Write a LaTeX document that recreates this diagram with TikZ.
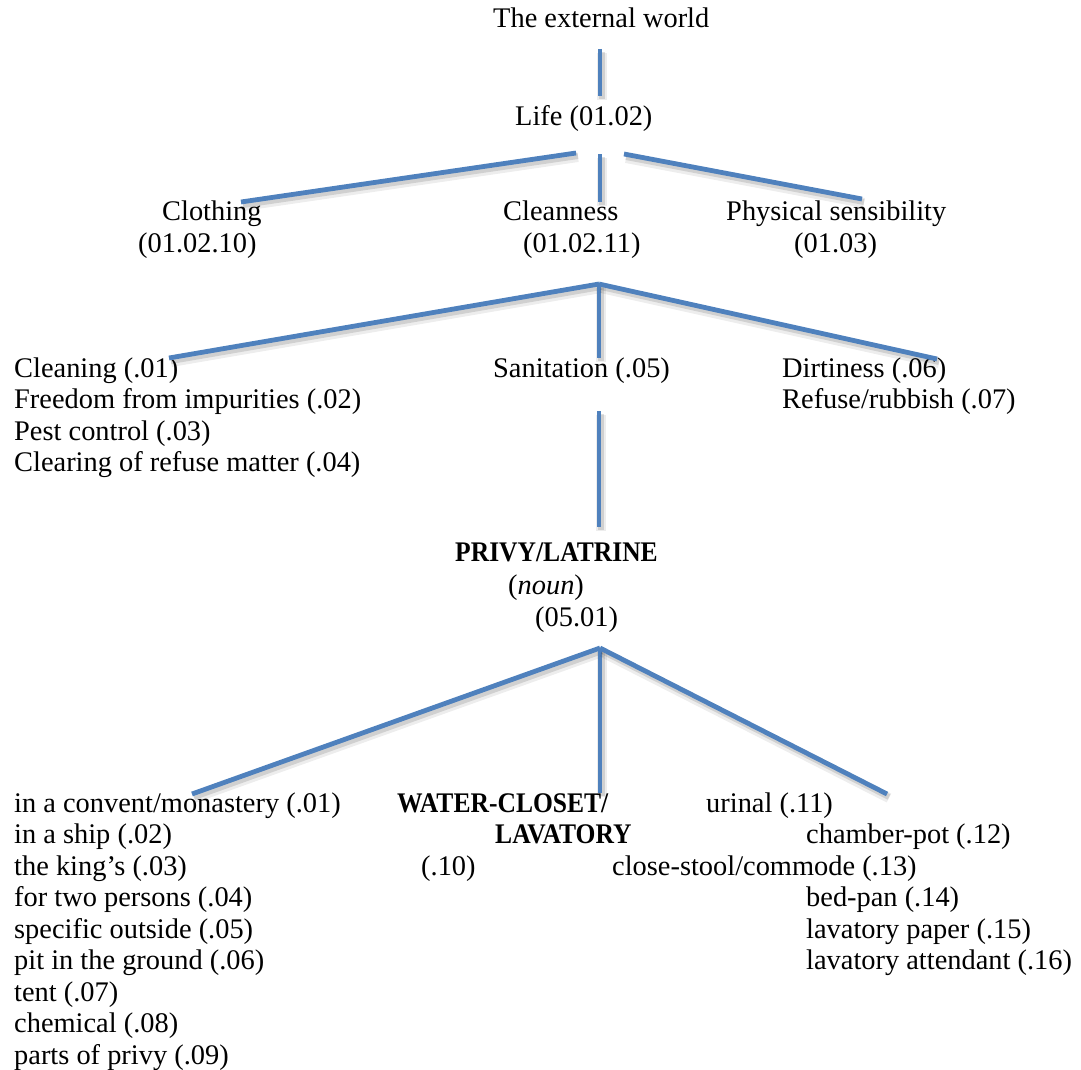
\documentclass[tikz,border=0pt]{standalone}
\usepackage{fontspec}
\setmainfont{Liberation Serif}[BoldFeatures={FakeStretch=0.9}]
\definecolor{branch}{HTML}{4F81BD}
\newcommand\linkit[2]{%
  \draw[shadowA] ([shift={(2,4)}]#1) -- ([shift={(2,4)}]#2);
  \draw[shadowB] ([shift={(2,3)}]#1) -- ([shift={(2,3)}]#2);
  \draw[conn] (#1) -- (#2);}
\begin{document}
\begin{tikzpicture}[x=1pt,y=-1pt,
  lbl/.style={anchor=base west, inner sep=0pt, font=\fontsize{28.4}{31.5}\selectfont},
  bl/.style={anchor=base west, inner sep=0pt, font=\fontsize{28.4}{31.5}\selectfont\bfseries},
  conn/.style={draw=branch, line width=4.8pt},
  shadowA/.style={draw=black, line width=10pt, opacity=0.07},
  shadowB/.style={draw=black, line width=6pt, opacity=0.12},
  ]
\useasboundingbox (0,0) rectangle (1081,1070);

% ---- level 0 / 1
\node[lbl] (ext) at (493,28) {The external world};
\node[lbl] (life) at (515,125) {Life (01.02)};

\node[lbl] (cloth) at (162,220) {Clothing};
\node[lbl] (clothn) at (138,252) {(01.02.10)};
\node[lbl] (clean) at (503,220) {Cleanness};
\node[lbl] (cleann) at (523,252) {(01.02.11)};
\node[lbl] (phys) at (726,220) {Physical sensibility};
\node[lbl] (physn) at (794,252) {(01.03)};

% ---- level 2
\node[lbl] (c1) at (14,377) {Cleaning (.01)};
\node[lbl] (c2) at (14,408.5) {Freedom from impurities (.02)};
\node[lbl] (c3) at (14,440) {Pest control (.03)};
\node[lbl] (c4) at (14,471.5) {Clearing of refuse matter (.04)};
\node[lbl] (san) at (493,377) {Sanitation (.05)};
\node[lbl] (d1) at (782,377) {Dirtiness (.06)};
\node[lbl] (d2) at (782,408.5) {Refuse/rubbish (.07)};

% ---- level 3
\node[bl] (privy) at (455,561) {PRIVY/LATRINE};
\node[lbl] (noun) at (508,594) {(\textit{noun})};
\node[lbl] (pcode) at (535,626) {(05.01)};

% ---- level 4
\node[lbl] (p1) at (14,812) {in a convent/monastery (.01)};
\node[lbl] (p2) at (14,843.5) {in a ship (.02)};
\node[lbl] (p3) at (14,875) {the king’s (.03)};
\node[lbl] (p4) at (14,906.5) {for two persons (.04)};
\node[lbl] (p5) at (14,938) {specific outside (.05)};
\node[lbl] (p6) at (14,969.5) {pit in the ground (.06)};
\node[lbl] (p7) at (14,1001) {tent (.07)};
\node[lbl] (p8) at (14,1032.5) {chemical (.08)};
\node[lbl] (p9) at (14,1064) {parts of privy (.09)};

\node[bl] (wc1) at (397,812) {WATER-CLOSET/};
\node[bl] (wc2) at (495,843.5) {LAVATORY};
\node[lbl] (wc3) at (421,875) {(.10)};

\node[lbl] (r1) at (706,812) {urinal (.11)};
\node[lbl] (r2) at (806,843.5) {chamber-pot (.12)};
\node[lbl] (r3) at (612,875) {close-stool/commode (.13)};
\node[lbl] (r4) at (806,906.5) {bed-pan (.14)};
\node[lbl] (r5) at (806,938) {lavatory paper (.15)};
\node[lbl] (r6) at (806,969.5) {lavatory attendant (.16)};

% ---- connector end points
\coordinate (extB) at (600,49);
\coordinate (lifeT) at (600,96);
\coordinate (lifeL) at (576,153);
\coordinate (lifeC) at (600,154);
\coordinate (lifeR) at (624,154);
\coordinate (clothT) at (241,202);
\coordinate (cleanT) at (600,202);
\coordinate (physT) at (862,199);
\coordinate (cleanB) at (599,284);
\coordinate (c1T) at (169,358);
\coordinate (sanT) at (599,358);
\coordinate (d1T) at (937,359);
\coordinate (sanB) at (599,411);
\coordinate (privyT) at (599,527);
\coordinate (pcodeB) at (600,648);
\coordinate (p1T) at (192,794);
\coordinate (wcT) at (600,793);
\coordinate (r1T) at (887,794);

\linkit{extB}{lifeT}
\linkit{lifeL}{clothT}
\linkit{lifeC}{cleanT}
\linkit{lifeR}{physT}
\linkit{cleanB}{c1T}
\linkit{cleanB}{sanT}
\linkit{cleanB}{d1T}
\linkit{sanB}{privyT}
\linkit{pcodeB}{p1T}
\linkit{pcodeB}{wcT}
\linkit{pcodeB}{r1T}
\end{tikzpicture}
\end{document}
